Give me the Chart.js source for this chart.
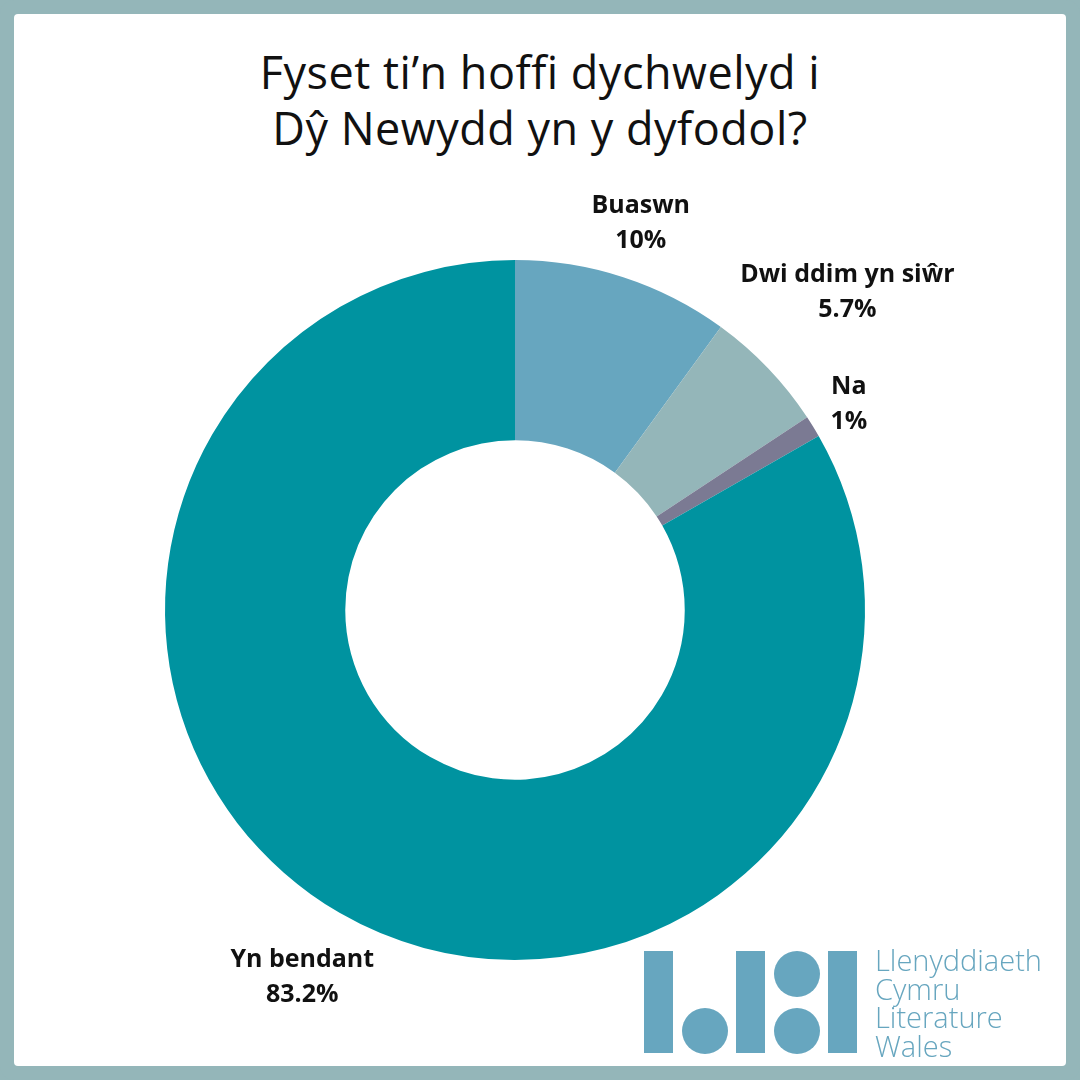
<!DOCTYPE html>
<html>
<head>
<meta charset="utf-8">
<script src="https://cdn.jsdelivr.net/npm/chart.js@4"></script>
<style>
  html, body { margin: 0; padding: 0; background: #94b6b9; }
  #frame {
    position: absolute; left: 0; top: 0; width: 1080px; height: 1080px;
    box-sizing: border-box; border: 14px solid #94b6b9; border-radius: 14px;
    background: #94b6b9;
  }
  #inner {
    position: absolute; left: 14px; top: 14px; width: 1052px; height: 1052px;
    background: #fff; border-radius: 4px;
  }
  #title {
    position: absolute; left: 0; top: 44px; width: 1080px; text-align: center;
    font-family: "Open Sans", sans-serif; font-size: 45px; line-height: 56px;
    color: #111; letter-spacing: 0.5px;
  }
  #wrap { position: absolute; left: 0; top: 0; width: 1080px; height: 1080px; }
  .logo { position: absolute; background: #67a6bf; }
  .dot { position: absolute; background: #67a6bf; border-radius: 50%; width: 46px; height: 46px; }
  #logotext {
    position: absolute; left: 875px; top: 946px; color: #67a6bf;
    font-family: "Open Sans", sans-serif; font-weight: 300; font-size: 29px; line-height: 28.5px;
  }
</style>
</head>
<body>
<div id="frame"></div>
<div id="inner"></div>
<div id="title">Fyset ti’n hoffi dychwelyd i<br>Dŷ Newydd yn y dyfodol?</div>
<div id="wrap"><canvas id="pie"></canvas></div>

<div class="logo" style="left:644px;top:951px;width:29px;height:102px"></div>
<div class="dot" style="left:682px;top:1008px"></div>
<div class="logo" style="left:736px;top:951px;width:29px;height:102px"></div>
<div class="dot" style="left:774px;top:951px"></div>
<div class="dot" style="left:774px;top:1008px"></div>
<div class="logo" style="left:828px;top:951px;width:29px;height:102px"></div>
<div id="logotext">Llenyddiaeth<br>Cymru<br>Literature<br>Wales</div>

<script>
// survey answers, percent
const answers = ['Buaswn', 'Dwi ddim yn siŵr', 'Na', 'Yn bendant'];
const shares = [10, 5.7, 1, 83.2];
const shareLabels = ['10%', '5.7%', '1%', '83.2%'];
const sliceColours = ['#67a6bf', '#94b6b9', '#7b7a93', '#0093a0'];

// labels sit outside each slice, pushed out along the slice's middle angle
const outsideLabels = {
  id: 'outsideLabels',
  afterDatasetsDraw(chart) {
    const ctx = chart.ctx;
    const meta = chart.getDatasetMeta(0);
    const font = '700 25px "Open Sans", sans-serif';
    const lineH = 35;
    ctx.save();
    ctx.font = font;
    ctx.fillStyle = '#111';
    ctx.textAlign = 'center';
    ctx.textBaseline = 'middle';
    meta.data.forEach((arc, i) => {
      const mid = (arc.startAngle + arc.endAngle) / 2;
      const lines = [answers[i], shareLabels[i]];
      const halfW = Math.max(...lines.map(t => ctx.measureText(t).width)) / 2;
      const halfH = lineH;
      const dx = Math.cos(mid), dy = Math.sin(mid);
      const dist = arc.outerRadius + 8 + Math.abs(dx) * halfW + Math.abs(dy) * halfH;
      const cx = arc.x + dx * dist;
      const cy = arc.y + dy * dist;
      ctx.fillText(lines[0], cx, cy - lineH / 2);
      ctx.fillText(lines[1], cx, cy + lineH / 2);
    });
    ctx.restore();
  }
};

new Chart(document.getElementById('pie'), {
  type: 'doughnut',
  data: {
    labels: answers,
    datasets: [{
      data: shares,
      backgroundColor: sliceColours,
      borderWidth: 0
    }]
  },
  options: {
    responsive: true,
    maintainAspectRatio: false,
    animation: false,
    cutout: '48.5%',
    layout: { padding: { left: 165, right: 215, top: 260, bottom: 120 } },
    plugins: {
      legend: { display: false },
      tooltip: { enabled: false }
    }
  },
  plugins: [outsideLabels]
});
</script>
</body>
</html>
